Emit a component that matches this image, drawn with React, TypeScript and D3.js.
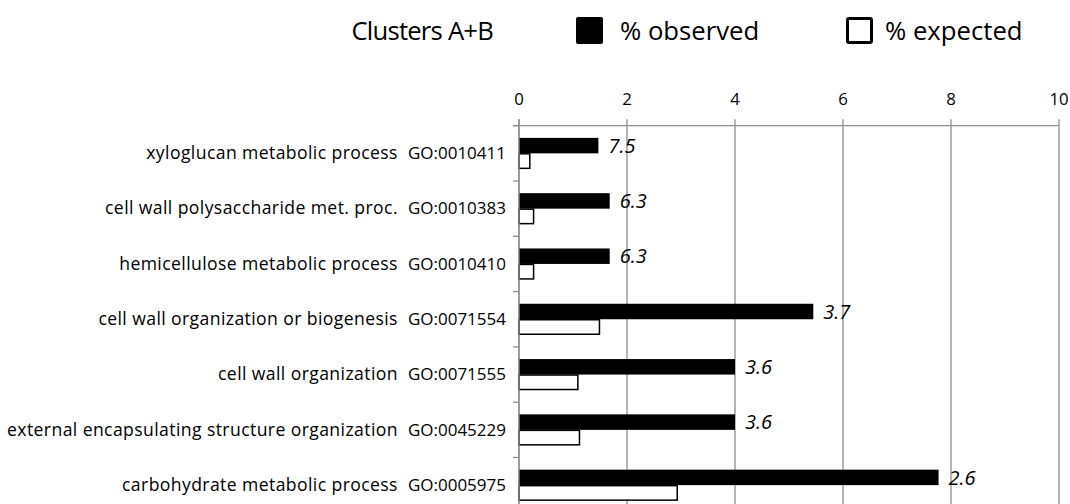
import * as React from 'react';
import * as d3 from 'd3';

// GO terms, top to bottom
const terms = [
  'xyloglucan metabolic process',
  'cell wall polysaccharide met. proc.',
  'hemicellulose metabolic process',
  'cell wall organization or biogenesis',
  'cell wall organization',
  'external encapsulating structure organization',
  'carbohydrate metabolic process',
];
const goIds = [
  'GO:0010411',
  'GO:0010383',
  'GO:0010410',
  'GO:0071554',
  'GO:0071555',
  'GO:0045229',
  'GO:0005975',
];
const observed = [1.47, 1.68, 1.68, 5.45, 4.0, 4.0, 7.77];
const expected = [0.2, 0.27, 0.27, 1.49, 1.09, 1.12, 2.93];
const foldLabels = ['7.5', '6.3', '6.3', '3.7', '3.6', '3.6', '2.6'];
const xTicks = [0, 2, 4, 6, 8, 10];
const seriesNames = ['observed', 'expected'];

const W = 1070;
const H = 504;
const font = '"Open Sans", sans-serif';
const grey = '#8e8e8e';

export default function App() {
  const plotLeft = 519;
  const plotRight = 1059;
  const plotTop = 125.7;
  const step = 55.3;

  const x = d3.scaleLinear().domain([0, 10]).range([plotLeft, plotRight]);
  const y = d3
    .scaleBand<number>()
    .domain(d3.range(terms.length))
    .range([plotTop, plotTop + step * terms.length])
    .paddingInner(0.44)
    .paddingOuter(0.22);
  const ySub = d3.scaleBand<string>().domain(seriesNames).range([0, y.bandwidth()]);

  const boundaries = d3.range(terms.length + 1).map((i) => plotTop + step * i);

  return (
    <svg
      width={W}
      height={H}
      style={{ position: 'absolute', left: 0, top: 0, background: '#fff' }}
      fontFamily={font}
    >
      {/* legend */}
      <g>
        <text x={493} y={40} fontSize={25.7} letterSpacing={-0.8} textAnchor="end" fill="#000">
          Clusters A+B
        </text>
        <rect x={576} y={17} width={27} height={27} rx={2} fill="#000" />
        <text x={620} y={40} fontSize={25.7} fill="#000">
          % observed
        </text>
        <rect x={847.5} y={18.5} width={24} height={24} rx={1.5} fill="#fff" stroke="#000" strokeWidth={3} />
        <text x={885} y={40} fontSize={25.7} fill="#000">
          % expected
        </text>
      </g>

      {/* gridlines + ticks */}
      <g>
        {xTicks.map((t) => (
          <g key={t}>
            <line x1={x(t)} x2={x(t)} y1={plotTop - 6.5} y2={H} stroke={grey} strokeWidth={1.3} />
            <text x={x(t)} y={105} fontSize={16.8} textAnchor="middle" fill="#000">
              {t}
            </text>
          </g>
        ))}
        <line x1={plotLeft - 6} x2={plotRight} y1={plotTop} y2={plotTop} stroke={grey} strokeWidth={1.3} />
        {boundaries.map((b, i) => (
          <line key={i} x1={plotLeft - 6} x2={plotLeft} y1={b} y2={b} stroke={grey} strokeWidth={1.3} />
        ))}
      </g>

      {/* bars */}
      <g>
        {terms.map((_, i) => (
          <g key={i} transform={`translate(0, ${y(i)})`}>
            <rect
              x={x(0)}
              y={ySub('observed')}
              width={x(observed[i]) - x(0)}
              height={ySub.bandwidth()}
              fill="#000"
            />
            <rect
              x={x(0)}
              y={(ySub('expected') as number) + 0.5}
              width={x(expected[i]) - x(0)}
              height={ySub.bandwidth() - 1}
              fill="#fff"
              stroke="#000"
              strokeWidth={1.5}
            />
            <text
              x={x(observed[i]) + 10}
              y={(ySub('observed') as number) + ySub.bandwidth() / 2}
              dy="0.36em"
              fontSize={20}
              fontStyle="italic"
              fill="#000"
            >
              {foldLabels[i]}
            </text>
          </g>
        ))}
      </g>

      {/* y axis on top of bars */}
      <line x1={plotLeft} x2={plotLeft} y1={plotTop - 6.5} y2={H} stroke={grey} strokeWidth={1.3} />

      {/* category labels */}
      <g>
        {terms.map((t, i) => (
          <text
            key={i}
            x={506}
            y={(y(i) as number) + y.bandwidth() / 2}
            dy="0.36em"
            textAnchor="end"
            fill="#000"
          >
            <tspan fontSize={17.6} letterSpacing={0.4}>{t}</tspan>
            <tspan dx={10} fontSize={17}>{goIds[i]}</tspan>
          </text>
        ))}
      </g>
    </svg>
  );
}
